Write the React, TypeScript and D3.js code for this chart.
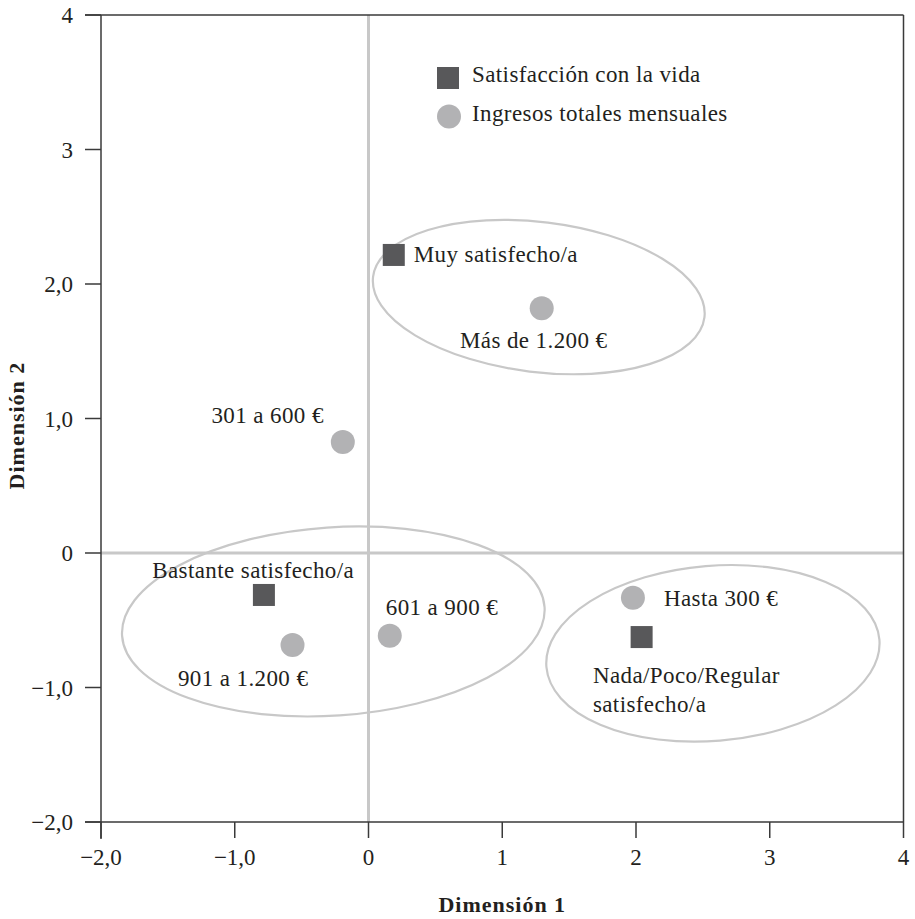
import React from "react";
import * as d3 from "d3";

// ---- Data ----
const satisfactionLabels = ["Muy satisfecho/a", "Bastante satisfecho/a", "Nada/Poco/Regular satisfecho/a"];
const satisfactionX = [0.189, -0.782, 2.042];
const satisfactionY = [2.216, -0.312, -0.625];

const incomeLabels = ["Hasta 300 €", "301 a 600 €", "601 a 900 €", "901 a 1.200 €", "Más de 1.200 €"];
const incomeX = [1.977, -0.192, 0.159, -0.568, 1.295];
const incomeY = [-0.332, 0.825, -0.615, -0.684, 1.819];

// grouping ellipses (data units): centre, semi-axes, tilt in degrees
const ellipseCX = [1.273, -0.263, 2.575];
const ellipseCY = [1.903, -0.509, -0.746];
const ellipseRX = [1.248, 1.583, 1.249];
const ellipseRY = [0.558, 0.7, 0.651];
const ellipseTilt = [-7, 3.9, 4.7];

const tickValues = [-2, -1, 0, 1, 2, 3, 4];
const xTickLabels = ["−2,0", "−1,0", "0", "1", "2", "3", "4"];
const yTickLabels = ["−2,0", "−1,0", "0", "1,0", "2,0", "3", "4"];

const legendLabels = ["Satisfacción con la vida", "Ingresos totales mensuales"];
const xTitle = "Dimensión 1";
const yTitle = "Dimensión 2";

// ---- Label layout (offsets in px from the marker) ----
type LabelPos = { anchor: "start" | "middle" | "end"; dx: number; dy: number; lines?: string[] };
const satisfactionLabelPos: LabelPos[] = [
  { anchor: "start", dx: 20, dy: 7 },
  { anchor: "middle", dx: -10.7, dy: -17 },
  { anchor: "start", dx: -48.7, dy: 46.3, lines: ["Nada/Poco/Regular", "satisfecho/a"] },
];
const incomeLabelPos: LabelPos[] = [
  { anchor: "start", dx: 31, dy: 8 },
  { anchor: "end", dx: -19, dy: -19 },
  { anchor: "start", dx: -4, dy: -21 },
  { anchor: "middle", dx: -49.4, dy: 40.7 },
  { anchor: "middle", dx: -8, dy: 40 },
];

const W = 915;
const H = 919;
const left = 101;
const right = 903.5;
const top = 15;
const bottom = 822;
const tickLen = 16;

const FONT = "'Liberation Serif', 'Times New Roman', serif";
const TEXT = "#231f20";
const AXIS = "#3a3a3a";
const SQUARE = "#58585a";
const CIRCLE = "#b2b2b4";
const LIGHT = "#c8c8c8";
const SQ = 22;
const R = 12;
const LS = 0.4;

export default function App() {
  const x = d3.scaleLinear().domain([-2, 4]).range([left, right]);
  const y = d3.scaleLinear().domain([-2, 4]).range([bottom, top]);
  const ux = x(1) - x(0);
  const uy = y(0) - y(1);

  const renderLabel = (text: string, px: number, py: number, pos: LabelPos, key: string) => {
    const lines = pos.lines ?? [text];
    return (
      <text
        key={key}
        x={px + pos.dx}
        y={py + pos.dy}
        textAnchor={pos.anchor}
        fontFamily={FONT}
        fontSize={23}
        letterSpacing={LS}
        fill={TEXT}
      >
        {lines.map((l, i) => (
          <tspan key={i} x={px + pos.dx} dy={i === 0 ? 0 : 28.4}>
            {l}
          </tspan>
        ))}
      </text>
    );
  };

  return (
    <svg width={W} height={H} style={{ position: "absolute", left: 0, top: 0, background: "#fff" }}>
      {/* zero reference lines */}
      <line x1={x(0)} x2={x(0)} y1={top} y2={bottom} stroke={LIGHT} strokeWidth={3} />
      <line x1={left} x2={right} y1={y(0)} y2={y(0)} stroke={LIGHT} strokeWidth={3} />

      {/* ellipses */}
      {ellipseCX.map((cx, i) => (
        <ellipse
          key={"e" + i}
          cx={0}
          cy={0}
          rx={ellipseRX[i] * ux}
          ry={ellipseRY[i] * uy}
          transform={`translate(${x(cx)},${y(ellipseCY[i])}) rotate(${-ellipseTilt[i]})`}
          fill="none"
          stroke={LIGHT}
          strokeWidth={2.2}
        />
      ))}

      {/* frame + axes */}
      <g stroke={AXIS} strokeWidth={1.5} fill="none">
        <line x1={left} x2={left} y1={top} y2={bottom + tickLen + 1} />
        <line x1={right} x2={right} y1={top} y2={bottom} />
        <line x1={left - tickLen} x2={right} y1={top} y2={top} />
        <line x1={left - tickLen} x2={right} y1={bottom} y2={bottom} />
        {tickValues.map((v) => (
          <line key={"yt" + v} x1={left - tickLen} x2={left} y1={y(v)} y2={y(v)} />
        ))}
        {tickValues.map((v) => (
          <line key={"xt" + v} x1={x(v)} x2={x(v)} y1={bottom} y2={bottom + tickLen} />
        ))}
      </g>
      {tickValues.map((v, i) => (
        <text key={"yl" + v} x={73} y={y(v)} dy="0.35em" textAnchor="end" fontFamily={FONT} fontSize={23} fill={TEXT}>
          {yTickLabels[i]}
        </text>
      ))}
      {tickValues.map((v, i) => (
        <text key={"xl" + v} x={x(v)} y={865} textAnchor="middle" fontFamily={FONT} fontSize={23} fill={TEXT}>
          {xTickLabels[i]}
        </text>
      ))}

      {/* axis titles */}
      <text
        x={(left + right) / 2}
        y={912}
        textAnchor="middle"
        fontFamily={FONT}
        fontSize={22}
        fontWeight="bold"
        letterSpacing={1}
        fill={TEXT}
      >
        {xTitle}
      </text>
      <text
        transform={`translate(24,${(top + bottom) / 2 + 7}) rotate(-90)`}
        textAnchor="middle"
        fontFamily={FONT}
        fontSize={22}
        fontWeight="bold"
        letterSpacing={1}
        fill={TEXT}
      >
        {yTitle}
      </text>

      {/* income points */}
      {incomeLabels.map((lab, i) => (
        <circle key={"c" + i} cx={x(incomeX[i])} cy={y(incomeY[i])} r={R} fill={CIRCLE} />
      ))}
      {/* satisfaction points */}
      {satisfactionLabels.map((lab, i) => (
        <rect
          key={"s" + i}
          x={x(satisfactionX[i]) - SQ / 2}
          y={y(satisfactionY[i]) - SQ / 2}
          width={SQ}
          height={SQ}
          fill={SQUARE}
        />
      ))}

      {/* point labels */}
      {incomeLabels.map((lab, i) => renderLabel(lab, x(incomeX[i]), y(incomeY[i]), incomeLabelPos[i], "il" + i))}
      {satisfactionLabels.map((lab, i) =>
        renderLabel(lab, x(satisfactionX[i]), y(satisfactionY[i]), satisfactionLabelPos[i], "sl" + i)
      )}

      {/* legend */}
      <rect x={448 - SQ / 2} y={78 - SQ / 2} width={SQ} height={SQ} fill={SQUARE} />
      <text x={472} y={82} fontFamily={FONT} fontSize={23} letterSpacing={LS} fill={TEXT}>
        {legendLabels[0]}
      </text>
      <circle cx={449} cy={116.5} r={R} fill={CIRCLE} />
      <text x={472} y={121} fontFamily={FONT} fontSize={23} letterSpacing={LS} fill={TEXT}>
        {legendLabels[1]}
      </text>
    </svg>
  );
}
